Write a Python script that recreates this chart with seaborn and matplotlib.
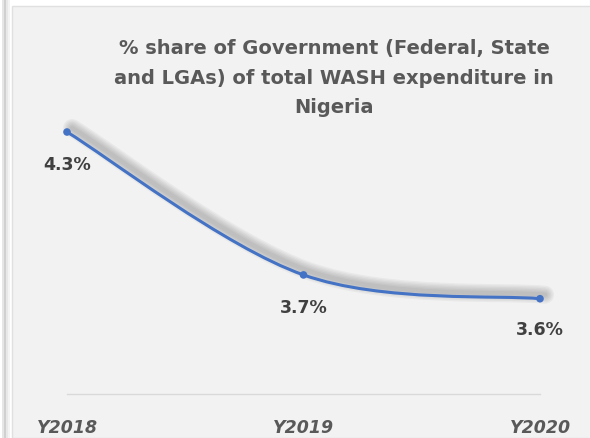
import matplotlib
matplotlib.use("Agg")
import matplotlib.pyplot as plt
import matplotlib.transforms as mtransforms
from matplotlib.path import Path
from matplotlib.patches import PathPatch, Rectangle
import seaborn as sns
import pandas as pd

# data
years = ["Y2018", "Y2019", "Y2020"]
share = [4.3, 3.7, 3.6]
labels = ["4.3%", "3.7%", "3.6%"]

title = "% share of Government (Federal, State\nand LGAs) of total WASH expenditure in\nNigeria"

sns.set_style("white")
plt.rcParams["font.family"] = ["DejaVu Sans"]

df = pd.DataFrame({"year": years, "share": share, "x": range(len(years))})

fig = plt.figure(figsize=(5.9, 4.39), dpi=100)
fig.patch.set_facecolor("white")

# chart area background and the gray left border strip
fig.patches.append(Rectangle((12 / 590, 0), 1, 1 - 7 / 439, transform=fig.transFigure,
                             facecolor="#F2F2F2", edgecolor="#E0E0E0", lw=1, zorder=-10))
for i, c in enumerate(["#E6E6E6", "#D0D0D0", "#E8E8E8", "#F4F4F4"]):
    fig.patches.append(Rectangle(((2 + i * 2) / 590, 0), 2 / 590, 1, transform=fig.transFigure,
                                 facecolor=c, edgecolor="none", zorder=-11))

ax = fig.add_axes([67 / 590, 1 - 395 / 439, 473 / 590, 262 / 439])
ax.set_facecolor("none")
ax.set_xlim(0, 2)
ax.set_ylim(3.2, 4.3)


def smooth_path(xs, ys):
    # cubic bezier segments like a spreadsheet "smoothed line"
    pts = list(zip(xs, ys))
    verts = [pts[0]]
    codes = [Path.MOVETO]
    n = len(pts)
    for i in range(n - 1):
        p0 = pts[max(i - 1, 0)]
        p1 = pts[i]
        p2 = pts[i + 1]
        p3 = pts[min(i + 2, n - 1)]
        c1 = (p1[0] + (p2[0] - p0[0]) / 6, p1[1] + (p2[1] - p0[1]) / 6)
        c2 = (p2[0] - (p3[0] - p1[0]) / 6, p2[1] - (p3[1] - p1[1]) / 6)
        verts += [c1, c2, p2]
        codes += [Path.CURVE4] * 3
    return Path(verts, codes)


path = smooth_path(df["x"].tolist(), df["share"].tolist())

# soft blurred shadow, shifted up and right
tr = mtransforms.offset_copy(ax.transData, fig=fig, x=5, y=4, units="dots")
for lw in [13, 11, 9, 7, 5, 3]:
    ax.add_patch(PathPatch(path, transform=tr, facecolor="none", edgecolor="#505050",
                           lw=lw, alpha=0.06, capstyle="round", clip_on=False, zorder=1))

ax.add_patch(PathPatch(path, facecolor="none", edgecolor="#4472C4", lw=2.2,
                       clip_on=False, zorder=3))
sns.scatterplot(data=df, x="x", y="share", ax=ax, color="#4472C4", s=30,
                edgecolor="none", zorder=4, clip_on=False, legend=False)

offsets = [(0, -23), (0, -23), (0, -22)]
for xi, yi, lab, off in zip(df["x"], df["share"], labels, offsets):
    ax.annotate(lab, (xi, yi), xytext=off, textcoords="offset points", ha="center",
                va="center", fontsize=12.5, fontweight="bold", color="#404040")

ax.set_xticks(df["x"])
ax.set_xticklabels(years, fontsize=12.5, fontweight="bold", fontstyle="italic", color="#595959")
ax.tick_params(axis="x", length=0, pad=17)
ax.set_yticks([])
ax.set_xlabel("")
ax.set_ylabel("")
for s in ["top", "right", "left"]:
    ax.spines[s].set_visible(False)
ax.spines["bottom"].set_color("#D9D9D9")
ax.spines["bottom"].set_linewidth(1)

fig.text(334 / 590, 1 - 78 / 439, title, ha="center", va="center", fontsize=14,
         fontweight="bold", color="#595959", linespacing=1.7)

fig.savefig("out.png", dpi=100, facecolor=fig.get_facecolor())
